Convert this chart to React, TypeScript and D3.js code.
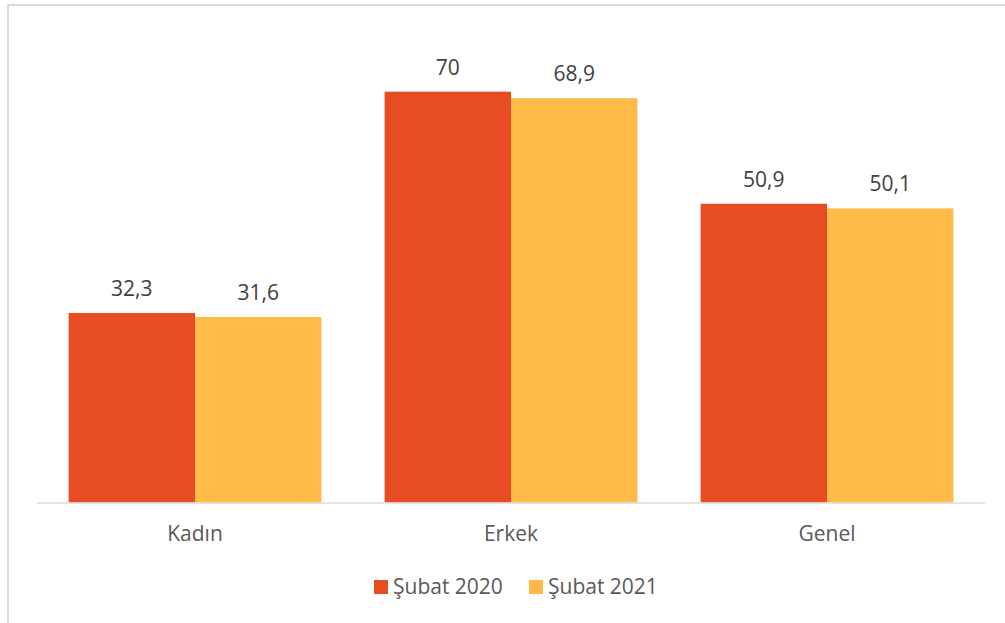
import React from "react";
import * as d3 from "d3";

const categories = ["Kadın", "Erkek", "Genel"];
const seriesNames = ["Şubat 2020", "Şubat 2021"];
const values2020 = [32.3, 70, 50.9];
const values2021 = [31.6, 68.9, 50.1];
const colors = ["#E84C22", "#FFBB46"];

const W = 1005;
const H = 623;
const margin = { top: 33, right: 20, bottom: 120, left: 37 };

export default function App() {
  const plotW = 985 - margin.left;
  const baseY = 502.5;

  const x0 = d3
    .scaleBand<string>()
    .domain(categories)
    .range([margin.left, margin.left + plotW])
    .paddingInner(0.2)
    .paddingOuter(0.1);
  const x1 = d3
    .scaleBand<number>()
    .domain([0, 1])
    .range([0, x0.bandwidth()]);
  const y = d3.scaleLinear().domain([0, 80]).range([baseY, margin.top]);

  const series = [values2020, values2021];
  const font = "'Open Sans', 'Noto Sans', sans-serif";
  const fs = 21;

  return (
    <svg
      width={W}
      height={H}
      style={{ position: "absolute", left: 0, top: 0, background: "#fff" }}
      fontFamily={font}
    >
      <rect x={8} y={5} width={W + 10} height={H + 10} fill="#fff" stroke="#D9D9D9" strokeWidth={2} />
      {categories.map((c, ci) =>
        series.map((vals, si) => {
          const bx = x0(c)! + x1(si)!;
          return (
            <g key={c + si}>
              <rect
                x={bx}
                y={y(vals[ci])}
                width={x1.bandwidth()}
                height={baseY - y(vals[ci])}
                fill={colors[si]}
              />
              <text
                x={bx + x1.bandwidth() / 2}
                y={y(vals[ci]) - 17}
                textAnchor="middle"
                fontSize={fs}
                fill="#404040"
              >
                {String(vals[ci]).replace(".", ",")}
              </text>
            </g>
          );
        })
      )}
      <line x1={margin.left} x2={margin.left + plotW} y1={baseY + 0.5} y2={baseY + 0.5} stroke="#D9D9D9" strokeWidth={1.5} />
      {categories.map((c) => (
        <text
          key={c}
          x={x0(c)! + x0.bandwidth() / 2}
          y={541}
          textAnchor="middle"
          fontSize={fs}
          fill="#595959"
        >
          {c}
        </text>
      ))}
      {seriesNames.map((s, i) => {
        const lx = [374, 529][i];
        return (
          <g key={s}>
            <rect x={lx} y={580} width={14} height={14} fill={colors[i]} />
            <text x={lx + 19} y={594} fontSize={fs} fill="#595959">
              {s}
            </text>
          </g>
        );
      })}
    </svg>
  );
}
